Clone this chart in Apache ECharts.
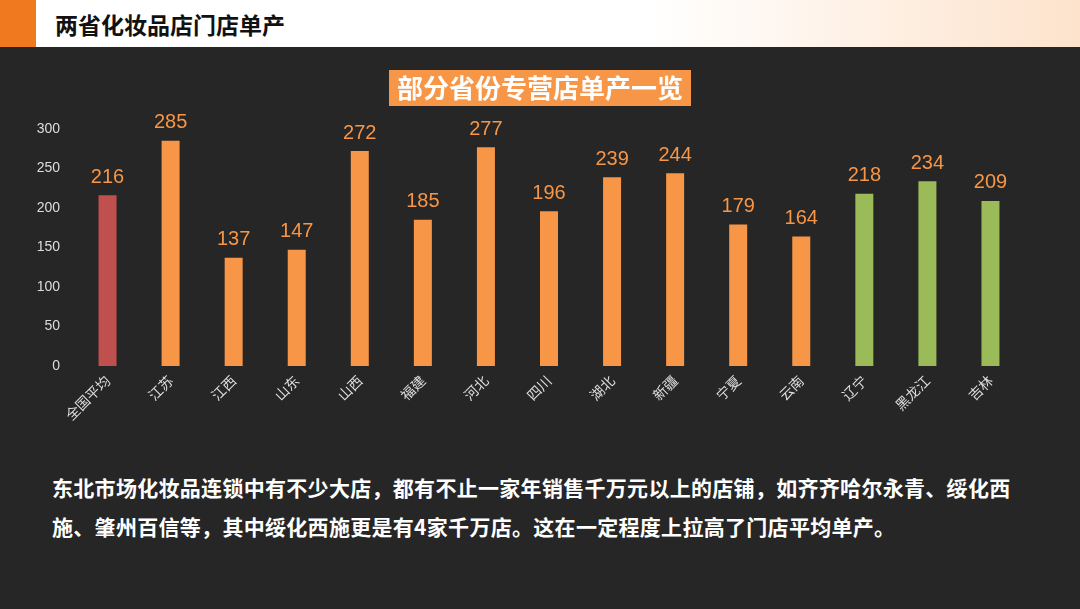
<!DOCTYPE html>
<html><head><meta charset="utf-8">
<script src="https://cdn.jsdelivr.net/npm/echarts@6/dist/echarts.min.js"></script>
<style>
body{margin:0;width:1080px;height:609px;background:#262626;overflow:hidden;font-family:"Noto Sans CJK SC",sans-serif}
#head{position:absolute;left:0;top:0;width:1080px;height:47px;background:linear-gradient(to right,#fff 0%,#fff 60%,#fde3cc 100%)}
#stripe{position:absolute;left:0;top:0;width:36px;height:47px;background:#f0781e}
#head span{position:absolute;left:55px;top:7px;font-size:23px;font-weight:bold;color:#111}
#main{position:absolute;left:0;top:48px;width:1080px;height:420px}
#txt{position:absolute;left:52px;top:468px;width:980px;color:#fff;font-size:21px;font-weight:bold;line-height:39px;letter-spacing:0.3px}
</style></head><body>
<div id="head"><div id="stripe"></div><span>两省化妆品店门店单产</span></div>
<div id="main"></div>
<div id="txt">东北市场化妆品连锁中有不少大店，都有不止一家年销售千万元以上的店铺，如齐齐哈尔永青、绥化西施、肇州百信等，其中绥化西施更是有4家千万店。这在一定程度上拉高了门店平均单产。</div>
<script>
var categories=["全国平均","江苏","江西","山东","山西","福建","河北","四川","湖北","新疆","宁夏","云南","辽宁","黑龙江","吉林"];
var values=[216,285,137,147,272,185,277,196,239,244,179,164,218,234,209];
var barColors=["#c0504d","#f79646","#f79646","#f79646","#f79646","#f79646","#f79646","#f79646","#f79646","#f79646","#f79646","#f79646","#9bbb59","#9bbb59","#9bbb59"];
var chart=echarts.init(document.getElementById("main"));
chart.setOption({
  title:{text:"部分省份专营店单产一览",left:"center",top:22,
    backgroundColor:"#f79646",padding:[5,8],
    textStyle:{color:"#fff",fontSize:26,fontWeight:"bold",fontFamily:"Noto Sans CJK SC"}},
  grid:{left:76,right:58,top:81,bottom:102},
  xAxis:{type:"category",data:categories,
    axisLine:{show:false},axisTick:{show:false},
    axisLabel:{rotate:45,color:"#ddd",fontSize:14,margin:12,fontFamily:"Noto Sans CJK SC"}},
  yAxis:{type:"value",min:0,max:300,interval:50,
    splitLine:{show:false},axisLine:{show:false},
    axisLabel:{color:"#ddd",fontSize:14,margin:16}},
  series:[{type:"bar",barWidth:18,
    data:values.map(function(v,i){return {value:v,itemStyle:{color:barColors[i]}};}),
    label:{show:true,position:"top",distance:8,fontSize:20,color:"#f79646"}}]
});
</script>
</body></html>
